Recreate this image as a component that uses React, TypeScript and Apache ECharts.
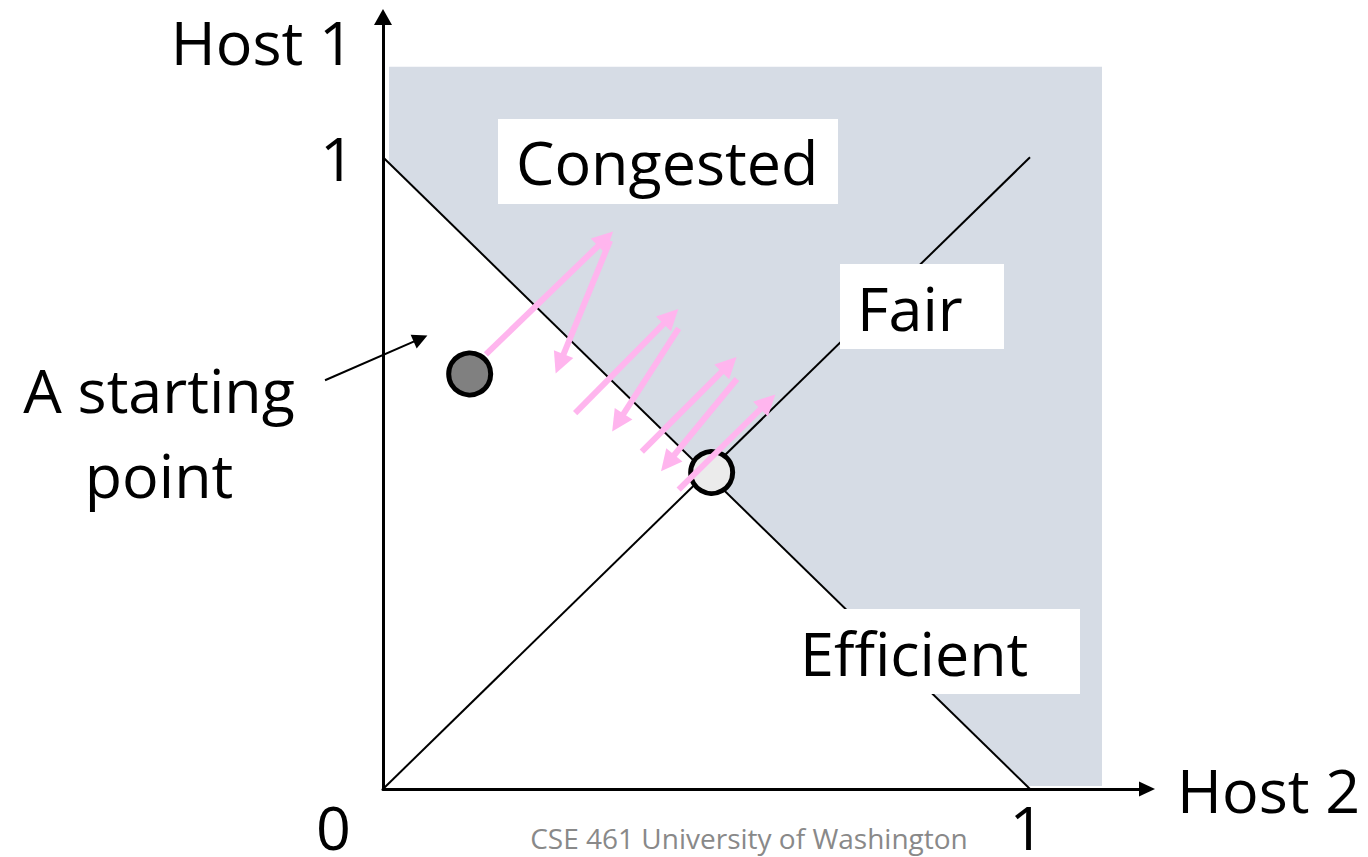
import React, { useEffect, useRef } from "react";
import * as echarts from "echarts";

// ---- data (unit = share of link capacity) ----
const axisTicks = [0, 1];
const tickLabels = ["0", "1"];
const efficiencyLine = [[0, 1], [1, 0]];
const fairnessLine = [[0, 0], [1, 1]];
const congestedRegion = [
  [0.0093, 1.1433],
  [1.1113, 1.1433],
  [1.1113, 0.0047],
  [0.9953, 0.0047],
  [0.0093, 0.9907],
];
const startPoint = [0.134, 0.657];
const optimumPoint = [0.508, 0.501];
const aimdFrom = [
  [0.159, 0.688],
  [0.351, 0.868],
  [0.297, 0.595],
  [0.457, 0.729],
  [0.4, 0.534],
  [0.547, 0.649],
  [0.457, 0.474],
];
const aimdTo = [
  [0.344, 0.871],
  [0.273, 0.673],
  [0.445, 0.748],
  [0.363, 0.58],
  [0.535, 0.672],
  [0.44, 0.516],
  [0.595, 0.613],
];
const pointerFrom = [-0.0896, 0.647];
const pointerTo = [0.058, 0.713];
const regionNames = ["Congested", "Fair", "Efficient"];
const startLabel = "A starting\npoint";
const footer = "CSE 461 University of Washington";

const FONT = "Open Sans";

export default function App() {
  const ref = useRef<HTMLDivElement>(null);
  useEffect(() => {
    if (!ref.current) return;
    const chart = echarts.init(ref.current, null, { renderer: "svg" });
    const bigText = { fontFamily: FONT, fontSize: 61, color: "#000" };
    const option: any = {
      animation: false,
      backgroundColor: "#fff",
      grid: { left: 383, top: 17, width: 764, height: 776 },
      xAxis: {
        type: "value",
        min: 0,
        max: 764 / 647,
        interval: 1,
        name: "Host 2",
        nameLocation: "end",
        nameGap: 30,
        nameTextStyle: { ...bigText, align: "left", verticalAlign: "middle" },
        axisLine: {
          show: true,
          onZero: false,
          lineStyle: { color: "#000", width: 3 },
          symbol: ["none", "triangle"],
          symbolSize: [15, 16],
        },
        axisTick: { show: false },
        splitLine: { show: false },
        axisLabel: {
          margin: 7,
          ...bigText,
          formatter: (v: number) => {
            const i = axisTicks.findIndex((t) => Math.abs(t - v) < 1e-9);
            if (i < 0) return "";
            return i === 0 ? `{zero|${tickLabels[i]}}` : `{one|${tickLabels[i]}}`;
          },
          rich: {
            zero: { ...bigText, padding: [0, 99, 0, 0] },
            one: { ...bigText, padding: [0, 6, 0, 0] },
          },
        },
      },
      yAxis: {
        type: "value",
        min: 0,
        max: 776 / 635,
        interval: 1,
        name: "Host 1",
        nameLocation: "end",
        nameGap: -24,
        nameTextStyle: { ...bigText, align: "right", verticalAlign: "middle", padding: [0, 29, 0, 0] },
        axisLine: {
          show: true,
          onZero: false,
          lineStyle: { color: "#000", width: 3 },
          symbol: ["none", "triangle"],
          symbolSize: [18, 16],
        },
        axisTick: { show: false },
        splitLine: { show: false },
        axisLabel: {
          margin: 28,
          ...bigText,
          formatter: (v: number) => {
            const i = axisTicks.findIndex((t) => Math.abs(t - v) < 1e-9);
            return i > 0 ? tickLabels[i] : "";
          },
        },
      },
      series: [
        {
          type: "custom",
          z: 1,
          clip: false,
          data: [0],
          silent: true,
          renderItem: (_p: any, api: any) => ({
            type: "polygon",
            shape: { points: congestedRegion.map((p) => api.coord(p)) },
            style: { fill: "#D6DCE5" },
          }),
        },
        {
          type: "line",
          z: 2,
          data: efficiencyLine,
          symbol: "none",
          lineStyle: { color: "#000", width: 2 },
        },
        {
          type: "line",
          z: 2,
          data: fairnessLine,
          symbol: "none",
          lineStyle: { color: "#000", width: 2 },
        },
        {
          type: "scatter",
          z: 3,
          data: [startPoint],
          symbolSize: 42,
          itemStyle: { color: "#808080", borderColor: "#000", borderWidth: 5, opacity: 1 },
        },
        {
          type: "scatter",
          z: 3,
          data: [optimumPoint],
          symbolSize: 42,
          itemStyle: { color: "#EBEBEB", borderColor: "#000", borderWidth: 5, opacity: 1 },
        },
        {
          type: "lines",
          coordinateSystem: "cartesian2d",
          z: 4,
          clip: false,
          data: aimdFrom.map((f, i) => ({ coords: [f, aimdTo[i]] })),
          symbol: ["none", "triangle"],
          symbolSize: 21,
          lineStyle: { color: "#FFB5EE", width: 6, opacity: 1, curveness: 0 },
        },
        {
          type: "lines",
          coordinateSystem: "cartesian2d",
          z: 4,
          clip: false,
          data: [{ coords: [pointerFrom, pointerTo] }],
          symbol: ["none", "triangle"],
          symbolSize: 15,
          lineStyle: { color: "#000", width: 2, opacity: 1, curveness: 0 },
        },
      ],
      graphic: [
        { type: "rect", z: 100, shape: { x: 498, y: 119, width: 340, height: 85 }, style: { fill: "#fff" } },
        { type: "rect", z: 100, shape: { x: 840, y: 264, width: 164, height: 85 }, style: { fill: "#fff" } },
        { type: "rect", z: 100, shape: { x: 782, y: 609, width: 298, height: 85 }, style: { fill: "#fff" } },
        {
          type: "text", z: 101, x: 516, y: 161,
          style: { text: regionNames[0], ...bigText, fill: "#000", textAlign: "left", textVerticalAlign: "middle" },
        },
        {
          type: "text", z: 101, x: 857, y: 307,
          style: { text: regionNames[1], ...bigText, fill: "#000", textAlign: "left", textVerticalAlign: "middle" },
        },
        {
          type: "text", z: 101, x: 800, y: 652,
          style: { text: regionNames[2], ...bigText, fill: "#000", textAlign: "left", textVerticalAlign: "middle" },
        },
        {
          type: "text", z: 101, x: 159, y: 432,
          style: { text: startLabel, ...bigText, lineHeight: 85, fill: "#000", textAlign: "center", textVerticalAlign: "middle" },
        },
        {
          type: "text", z: 101, x: 749, y: 838,
          style: { text: footer, fontFamily: FONT, fontSize: 28, fill: "#898989", textAlign: "center", textVerticalAlign: "middle" },
        },
      ],
    };
    chart.setOption(option);
    return () => chart.dispose();
  }, []);
  return (
    <div
      ref={ref}
      style={{ position: "fixed", left: 0, top: 0, width: 1368, height: 857, background: "#fff" }}
    />
  );
}
